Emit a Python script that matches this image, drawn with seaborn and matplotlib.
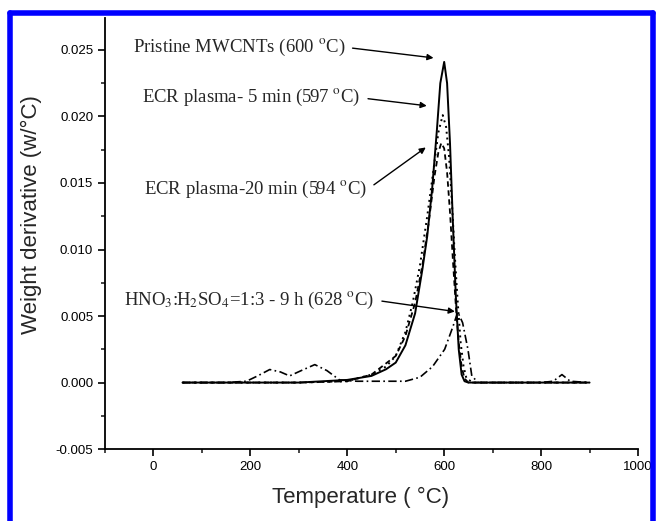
import matplotlib
matplotlib.use("Agg")
import matplotlib.pyplot as plt
from matplotlib.lines import Line2D
import seaborn as sns

# Data
t_pristine = [60, 100, 200, 300, 400, 450, 480, 500, 520, 540, 555, 565, 575, 585, 592,
              600, 606, 612, 618, 624, 630, 636, 642, 650, 700, 800, 900]
y_pristine = [0.0, 0.0, 0.0, 0.0, 0.0002, 0.0005, 0.001, 0.0015, 0.0028, 0.0052, 0.0085,
              0.011, 0.0145, 0.019, 0.0225, 0.0241, 0.0225, 0.018, 0.012, 0.0065, 0.0025,
              0.0006, 0.0001, 0.0, 0.0, 0.0, 0.0]

t_ecr5 = [60, 200, 300, 400, 450, 480, 500, 520, 535, 550, 565, 578, 588, 597, 604,
          610, 616, 622, 628, 634, 640, 646, 660, 900]
y_ecr5 = [0.0, 0.0, 0.0, 0.0001, 0.0006, 0.0012, 0.002, 0.0038, 0.006, 0.0088, 0.0125,
          0.016, 0.0188, 0.0201, 0.0192, 0.017, 0.0135, 0.0095, 0.006, 0.003, 0.0012,
          0.0003, 0.0, 0.0]

t_ecr20 = [60, 200, 300, 400, 450, 500, 520, 540, 555, 568, 580, 588, 594, 600, 606,
           612, 618, 624, 630, 636, 642, 650, 900]
y_ecr20 = [0.0, 0.0, 0.0, 0.0001, 0.0006, 0.002, 0.0035, 0.006, 0.0088, 0.012, 0.0155,
           0.0173, 0.018, 0.0176, 0.0158, 0.0128, 0.0092, 0.0058, 0.003, 0.0012, 0.0003,
           0.0, 0.0]

t_hno3 = [60, 150, 192, 215, 240, 262, 281, 305, 333, 358, 384, 420, 473, 520, 550, 576,
          601, 618, 628, 638, 649, 657, 670, 800, 825, 843, 860, 900]
y_hno3 = [0.0, 0.0, 0.0001, 0.0005, 0.00098, 0.0008, 0.0005, 0.0009, 0.00135, 0.0009,
          0.0002, 0.0001, 0.0001, 0.0001, 0.0004, 0.0012, 0.0025, 0.0042, 0.0053, 0.0045,
          0.0025, 0.0005, 0.0, 0.0, 0.0001, 0.0006, 0.0001, 0.0]

x_ticks = [0, 200, 400, 600, 800, 1000]
y_ticks = [-0.005, 0.000, 0.005, 0.010, 0.015, 0.020, 0.025]

sns.set_style("ticks")
plt.rcParams['font.family'] = ['Liberation Sans', 'DejaVu Sans']
plt.rcParams['mathtext.fontset'] = 'stix'

fig = plt.figure(figsize=(6.56, 5.21), dpi=100)
ax = fig.add_axes([0.160, 0.138, 0.8126, 0.8275])

sns.lineplot(x=t_pristine, y=y_pristine, ax=ax, color='black', lw=1.4, linestyle='-')
sns.lineplot(x=t_ecr5, y=y_ecr5, ax=ax, color='black', lw=1.4, linestyle=(0, (1, 2)))
sns.lineplot(x=t_ecr20, y=y_ecr20, ax=ax, color='black', lw=1.3, linestyle=(0, (3, 2)))
sns.lineplot(x=t_hno3, y=y_hno3, ax=ax, color='black', lw=1.2, linestyle=(0, (5, 2, 1, 2)))

ax.set_xlim(-100, 1000)
ax.set_ylim(-0.005, 0.0274)
ax.set_xticks(x_ticks)
ax.set_yticks(y_ticks)
ax.set_yticklabels([f"{v:.3f}" for v in y_ticks])
ax.set_xticks(range(-100, 1001, 100), minor=True)
ax.set_yticks([-0.0025, 0.0025, 0.0075, 0.0125, 0.0175, 0.0225], minor=True)
ax.tick_params(which='major', direction='out', length=5, width=1.2, labelsize=9.5,
               colors='black')
ax.tick_params(which='minor', direction='out', length=3, width=1.2)
sns.despine(ax=ax)
for s in ['left', 'bottom']:
    ax.spines[s].set_linewidth(1.3)
    ax.spines[s].set_color('black')

ax.set_xlabel('Temperature ( °C)', fontsize=16)
ax.set_ylabel('Weight derivative (w/°C)', fontsize=16)
ax.xaxis.set_label_coords(0.48, -0.088)
ax.yaxis.set_label_coords(-0.118, 0.545)

serif = dict(family='Liberation Serif', fontsize=13.5, ha='left', va='center')
arrow = dict(arrowstyle='-|>', color='black', lw=1.0, mutation_scale=9,
             shrinkA=3, shrinkB=0, relpos=(1.0, 0.5))
ax.annotate(r'Pristine MWCNTs (600 $^{\rm o}$C)', xy=(578, 0.0244), xytext=(-43, 0.0252),
            arrowprops=arrow, **serif)
ax.annotate(r'ECR plasma- 5 min (597 $^{\rm o}$C)', xy=(564, 0.0208), xytext=(-23, 0.0214),
            arrowprops=arrow, **serif)
ax.annotate(r'ECR plasma-20 min (594 $^{\rm o}$C)', xy=(562, 0.01767), xytext=(-19, 0.0145),
            arrowprops=arrow, **serif)
ax.annotate(r'HNO$_3$:H$_2$SO$_4$=1:3 - 9 h (628 $^{\rm o}$C)', xy=(622, 0.00534),
            xytext=(-60, 0.0062), arrowprops=arrow, **serif)

# blue frame around the figure
blue = '#0000ff'
for xs, ys in [([0.0152, 0.0152], [-0.1, 0.9760]), ([0.0152, 0.9955], [0.9760, 0.9760]),
               ([0.9955, 0.9955], [0.9760, -0.1])]:
    fig.add_artist(Line2D(xs, ys, transform=fig.transFigure, color=blue, lw=4))

fig.savefig('out.png', dpi=100)
